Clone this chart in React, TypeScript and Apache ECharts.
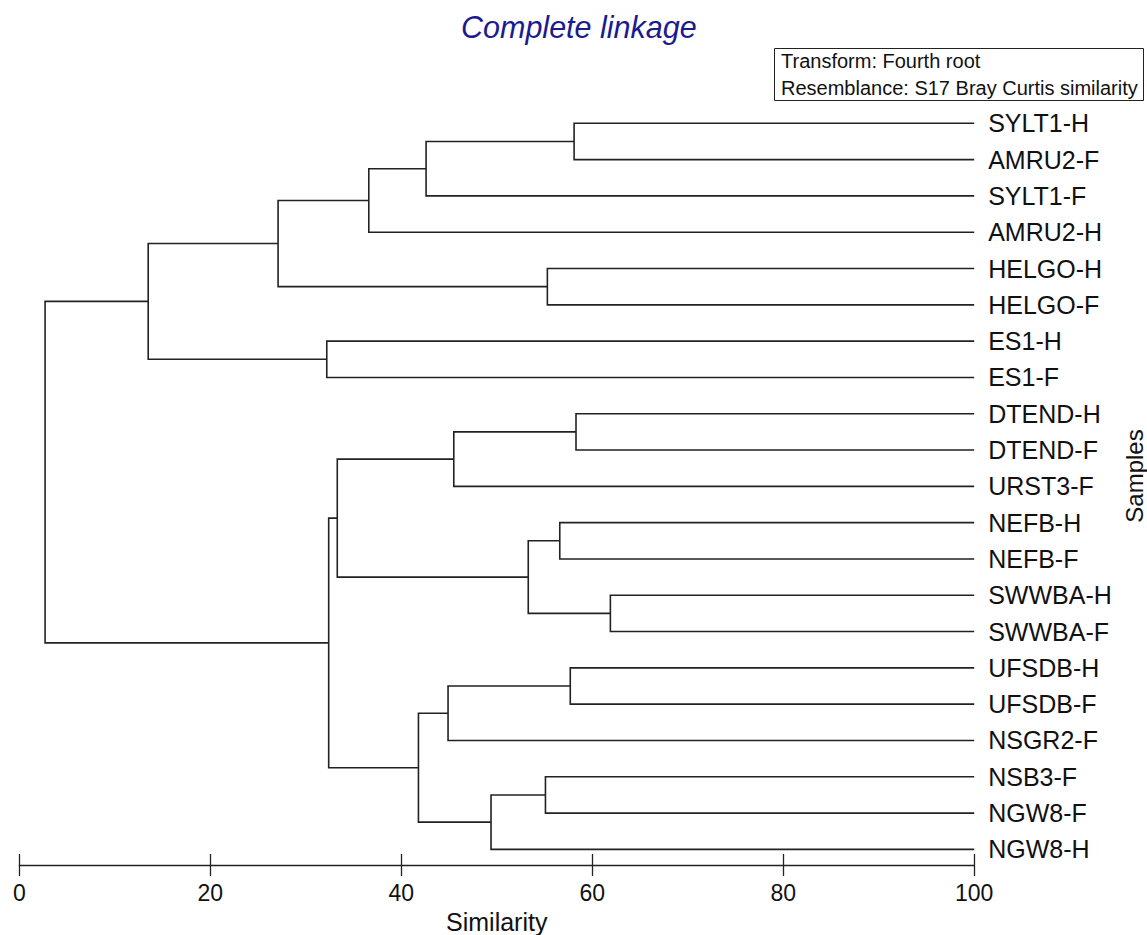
import React, { useEffect, useRef } from 'react';
import * as echarts from 'echarts';

const FONT = '"Liberation Sans", Arial, Helvetica, sans-serif';

// Samples, top to bottom (leaf order of the dendrogram)
const leaves = [
  'SYLT1-H', 'AMRU2-F', 'SYLT1-F', 'AMRU2-H', 'HELGO-H', 'HELGO-F', 'ES1-H', 'ES1-F',
  'DTEND-H', 'DTEND-F', 'URST3-F', 'NEFB-H', 'NEFB-F', 'SWWBA-H', 'SWWBA-F',
  'UFSDB-H', 'UFSDB-F', 'NSGR2-F', 'NSB3-F', 'NGW8-F', 'NGW8-H',
];

// Merge steps: node id, its two children and the similarity at which they join
const nodeIds = ['A', 'B', 'C', 'D', 'E', 'F', 'G', 'H', 'I', 'J', 'K', 'L', 'M', 'N', 'O', 'P', 'Q', 'R', 'S', 'T'];
const nodeLeft = ['SYLT1-H', 'A', 'B', 'HELGO-H', 'C', 'ES1-H', 'E', 'DTEND-H', 'H', 'NEFB-H', 'SWWBA-H', 'J', 'I', 'UFSDB-H', 'N', 'NSB3-F', 'P', 'O', 'M', 'G'];
const nodeRight = ['AMRU2-F', 'SYLT1-F', 'AMRU2-H', 'HELGO-F', 'D', 'ES1-F', 'F', 'DTEND-F', 'URST3-F', 'NEFB-F', 'SWWBA-F', 'K', 'L', 'UFSDB-F', 'NSGR2-F', 'NGW8-F', 'NGW8-H', 'Q', 'R', 'S'];
const nodeSimilarity = [58.1, 42.6, 36.6, 55.3, 27.1, 32.2, 13.5, 58.3, 45.5, 56.6, 61.9, 53.3, 33.3, 57.7, 44.9, 55.1, 49.4, 41.8, 32.4, 2.7];

const leafSimilarity = 100;
const xMin = 0;
const xMax = 100;
const xInterval = 20;

function buildLinks() {
  const pos: Record<string, [number, number]> = {};
  leaves.forEach((n, i) => {
    pos[n] = [leafSimilarity, i];
  });
  return nodeIds.map((id, k) => {
    const a = pos[nodeLeft[k]];
    const b = pos[nodeRight[k]];
    const s = nodeSimilarity[k];
    pos[id] = [s, (a[1] + b[1]) / 2];
    return [a[0], a[1], b[0], b[1], s];
  });
}

export default function App() {
  const ref = useRef<HTMLDivElement>(null);

  useEffect(() => {
    if (!ref.current) return;
    const chart = echarts.init(ref.current, null, { renderer: 'svg' });
    const links = buildLinks();
    const lineColor = '#222';

    const option: any = {
      animation: false,
      backgroundColor: '#fff',
      textStyle: { fontFamily: FONT },
      title: [
        {
          text: 'Complete linkage',
          left: 461,
          top: 12,
          padding: 0,
          textStyle: { fontFamily: FONT, fontSize: 30.5, fontStyle: 'italic', fontWeight: 'normal', color: '#1b1b8f' },
        },
        {
          text: 'Transform: Fourth root\nResemblance: S17 Bray Curtis similarity',
          left: 774,
          top: 48,
          padding: [0, 6, 0, 7],
          borderWidth: 1,
          borderColor: '#222',
          textStyle: { fontFamily: FONT, fontSize: 20, fontWeight: 'normal', color: '#111', lineHeight: 26.5 },
        },
      ],
      grid: {
        left: 19.3,
        right: 172.8,
        top: 87,
        bottom: 70,
        containLabel: false,
        outerBoundsMode: 'none',
      },
      xAxis: [
        {
          type: 'value',
          min: xMin,
          max: xMax,
          interval: xInterval,
          position: 'bottom',
          axisLine: { show: true, onZero: false, lineStyle: { color: lineColor, width: 1.3 } },
          axisTick: { show: true, length: 11, lineStyle: { color: lineColor, width: 1.3 } },
          axisLabel: { margin: 16, fontSize: 23, color: '#111', fontFamily: FONT },
          splitLine: { show: false },
          name: 'Similarity',
          nameLocation: 'middle',
          nameGap: 44,
          nameTextStyle: { fontSize: 25, color: '#111', fontFamily: FONT },
        },
        {
          type: 'value',
          min: xMin,
          max: xMax,
          interval: xInterval,
          position: 'bottom',
          axisLine: { show: false, onZero: false },
          axisTick: { show: true, inside: true, length: 11, lineStyle: { color: lineColor, width: 1.3 } },
          axisLabel: { show: false },
          splitLine: { show: false },
        },
      ],
      yAxis: {
        type: 'value',
        inverse: true,
        min: -1,
        max: 20.43,
        interval: 1,
        position: 'right',
        axisLine: { show: false, onZero: false },
        axisTick: { show: false },
        splitLine: { show: false },
        axisLabel: {
          margin: 14,
          fontSize: 25,
          color: '#111',
          fontFamily: FONT,
          formatter: (v: number) => {
            const i = Math.round(v);
            if (Math.abs(v - i) > 1e-6 || i < 0 || i >= leaves.length) return '';
            return leaves[i];
          },
        },
        name: 'Samples',
        nameLocation: 'middle',
        nameRotate: 90,
        nameGap: 140,
        nameTextStyle: { fontSize: 24, color: '#111', fontFamily: FONT },
      },
      series: [
        {
          type: 'custom',
          coordinateSystem: 'cartesian2d',
          xAxisIndex: 0,
          yAxisIndex: 0,
          silent: true,
          data: links,
          encode: { x: [0, 2, 4], y: [1, 3] },
          renderItem: (params: any, api: any) => {
            const p1 = api.coord([api.value(0), api.value(1)]);
            const p2 = api.coord([api.value(4), api.value(1)]);
            const p3 = api.coord([api.value(4), api.value(3)]);
            const p4 = api.coord([api.value(2), api.value(3)]);
            return {
              type: 'polyline',
              shape: { points: [p1, p2, p3, p4] },
              style: { stroke: lineColor, lineWidth: 1.6, fill: 'none' },
            };
          },
        },
      ],
    };

    chart.setOption(option);
    return () => {
      chart.dispose();
    };
  }, []);

  return (
    <div
      ref={ref}
      style={{ position: 'fixed', left: 0, top: 0, width: 1147, height: 935, background: '#fff' }}
    />
  );
}
